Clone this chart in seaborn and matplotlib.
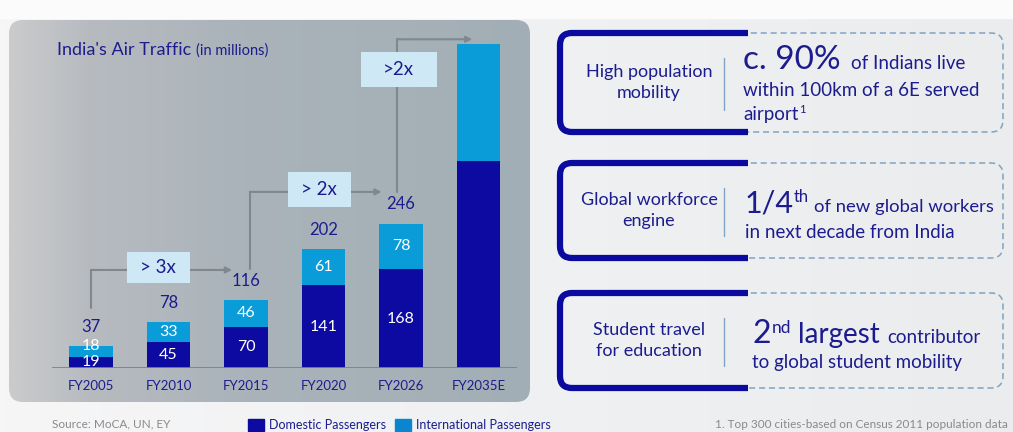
import numpy as np
import pandas as pd
import matplotlib.pyplot as plt
import seaborn as sns
from matplotlib.patches import FancyBboxPatch, Rectangle, Patch

# data (millions of passengers)
years = ["FY2005", "FY2010", "FY2015", "FY2020", "FY2026", "FY2035E"]
domestic = [19, 45, 70, 141, 168, 352]
international = [18, 33, 46, 61, 78, 200]
labelled = [True, True, True, True, True, False]

# growth call-outs: (x start, y start, y level, x end, box x0, box x1, box y0, box y1, text)
growth = [
    (0.0, 103, 167, 1.82, 0.46, 1.28, 145, 198, "> 3x"),
    (2.05, 169, 300, 3.75, 2.54, 3.35, 274, 334, "> 2x"),
    (3.95, 300, 560, 4.92, 3.48, 4.46, 479, 538, ">2x"),
]

NAVY = "#0c0aa0"
BLUE = "#0a9cd8"
TXT = "#1c1c8e"
GREY = "#80888e"

sns.set_theme(style="white")
plt.rcParams["font.family"] = ["Lato", "DejaVu Sans"]

W, H = 1013, 432
fig = plt.figure(figsize=(W / 100, H / 100), dpi=100)
renderer = fig.canvas.get_renderer()

# background canvas in pixel coords
bg = fig.add_axes([0, 0, 1, 1], zorder=-1)
bg.set_xlim(0, W)
bg.set_ylim(H, 0)
bg.axis("off")

xs = np.linspace(0, 1, 300)
col = np.stack([np.interp(xs, [0, 1], [246, 234]),
                np.interp(xs, [0, 1], [246, 236]),
                np.interp(xs, [0, 1], [247, 238])], axis=-1)[None] / 255
bg.imshow(col, extent=[0, W, H, 0], aspect="auto", zorder=0)
bg.add_patch(Rectangle((0, 0), W, 18, color="#fbfbfb", zorder=1))

# grey panel with gradient
panel = FancyBboxPatch((9, 20), 521, 382, boxstyle="round,pad=0,rounding_size=14",
                       facecolor="none", edgecolor="none", zorder=1)
bg.add_patch(panel)
pc = np.stack([np.interp(xs, [0, 0.15, 0.45, 1], [203, 183, 170, 162]),
               np.interp(xs, [0, 0.15, 0.45, 1], [203, 187, 179, 174]),
               np.interp(xs, [0, 0.15, 0.45, 1], [204, 192, 186, 181])], axis=-1)[None] / 255
im = bg.imshow(pc, extent=[9, 530, 402, 20], aspect="auto", zorder=2)
im.set_clip_path(panel)
bg.set_xlim(0, W)
bg.set_ylim(H, 0)


def chain(x, y, parts):
    # lay text pieces left to right on one baseline
    for s, size, dy, gap in parts:
        t = bg.text(x, y + dy, s, fontsize=size, color=TXT, va="baseline", zorder=5)
        x += t.get_window_extent(renderer).width + gap


# right-hand info boxes
boxes = [
    (33, 132, "High population\nmobility"),
    (163, 258, "Global workforce\nengine"),
    (293, 388, "Student travel\nfor education"),
]
for y0, y1, lab in boxes:
    dash = FancyBboxPatch((560, y0), 443, y1 - y0, boxstyle="round,pad=0,rounding_size=12",
                          facecolor="none", edgecolor="#7fa3c4", lw=1.1,
                          linestyle=(0, (4, 2.5)), zorder=3)
    bg.add_patch(dash)
    solid = FancyBboxPatch((560, y0), 443, y1 - y0, boxstyle="round,pad=0,rounding_size=12",
                           facecolor="none", edgecolor="#0a0a9e", lw=4.5, zorder=4)
    bg.add_patch(solid)
    solid.set_clip_path(Rectangle((540, y0 - 10), 208, y1 - y0 + 20, transform=bg.transData))
    bg.plot([724, 724], [y0 + 25, y1 - 22], color="#7fa3c4", lw=1, zorder=4)
    bg.text(649, (y0 + y1) / 2, lab, ha="center", va="center", fontsize=13,
            color=TXT, linespacing=1.4, zorder=5)

# box 1 text
chain(743, 69, [("c. 90%", 24, 0, 10), ("of Indians live", 13.5, 0, 0)])
chain(743, 96, [("within 100km of a 6E served", 13.5, 0, 0)])
chain(743, 120, [("airport", 13.5, 0, 1), ("1", 8, -7, 0)])
# box 2 text
chain(745, 212, [("1/4", 22, 0, 0), ("th", 12, -10, 5), ("of new global workers", 13.3, 0, 0)])
chain(745, 238, [("in next decade from India", 13.5, 0, 0)])
# box 3 text
chain(752, 343, [("2", 23, 0, 1), ("nd", 12.5, -10, 7), ("largest", 20, 0, 8),
                 ("contributor", 13.5, 0, 0)])
chain(752, 368, [("to global student mobility", 13.5, 0, 0)])

bg.text(715, 424, "1. Top 300 cities-based on Census 2011 population data", fontsize=8.5,
        color="#8a8a8a", va="center", zorder=5)
bg.text(52, 424, "Source: MoCA, UN, EY", fontsize=8.5, color="#8a8a8a", va="center", zorder=5)
chain(57, 55, [("India's Air Traffic", 13, 0, 5), ("(in millions)", 10.5, 0, 0)])

# bar chart
df = pd.DataFrame({"year": years, "domestic": domestic, "international": international})
df["total"] = df["domestic"] + df["international"]

ax = fig.add_axes([52.25 / W, (H - 368) / H, 465 / W, 352.2 / H])
ax.patch.set_alpha(0)
sns.barplot(data=df, x="year", y="total", color=BLUE, width=0.555, saturation=1,
            linewidth=0, ax=ax, zorder=2)
sns.barplot(data=df, x="year", y="domestic", color=NAVY, width=0.555, saturation=1,
            linewidth=0, ax=ax, zorder=3)
ax.set_xlim(-0.5, 5.5)
ax.set_ylim(0, 600)
ax.axhline(0, color="#7d8287", lw=2, zorder=4)
sns.despine(ax=ax, left=True, bottom=True)
ax.set_yticks([])
ax.set_xlabel("")
ax.set_ylabel("")
ax.tick_params(axis="x", length=0, pad=9, labelsize=9.5, labelcolor=TXT)

for i, row in df.iterrows():
    if not labelled[i]:
        continue
    d, n, t = row["domestic"], row["international"], row["total"]
    ax.text(i, d / 2, str(d), ha="center", va="center", color="white", fontsize=11.5, zorder=5)
    ax.text(i, max(d + n / 2, d / 2 + 28), str(n), ha="center", va="center", color="white",
            fontsize=11.5, zorder=5)
    ax.text(i, t + 33, str(t), ha="center", va="center", color=TXT, fontsize=12, zorder=5)

for x0, ys, yl, x1, bx0, bx1, by0, by1, txt in growth:
    ax.plot([x0, x0], [ys, yl], color=GREY, lw=1.5, zorder=4, clip_on=False)
    ax.annotate("", xy=(x1, yl), xytext=(x0, yl),
                arrowprops=dict(arrowstyle="-|>", color=GREY, lw=1.5, shrinkA=0, shrinkB=0,
                                mutation_scale=9), zorder=4, annotation_clip=False)
    ax.add_patch(Rectangle((bx0, by0), bx1 - bx0, by1 - by0, facecolor="#cfe8f6",
                           edgecolor="none", zorder=5, clip_on=False))
    ax.text((bx0 + bx1) / 2, (by0 + by1) / 2, txt, ha="center", va="center",
            fontsize=13.5, color=TXT, zorder=6)

handles = [Patch(color=NAVY, label="Domestic Passengers"),
           Patch(color="#0a86d0", label="International Passengers")]
ax.legend(handles=handles, loc="center left", bbox_to_anchor=(243 / W, 1 - 425 / H),
          bbox_transform=fig.transFigure, ncol=2, frameon=False, fontsize=9,
          labelcolor=TXT, handlelength=1.3, handleheight=1.1, handletextpad=0.4,
          columnspacing=0.7, borderaxespad=0)

fig.savefig("out.png", dpi=100)
